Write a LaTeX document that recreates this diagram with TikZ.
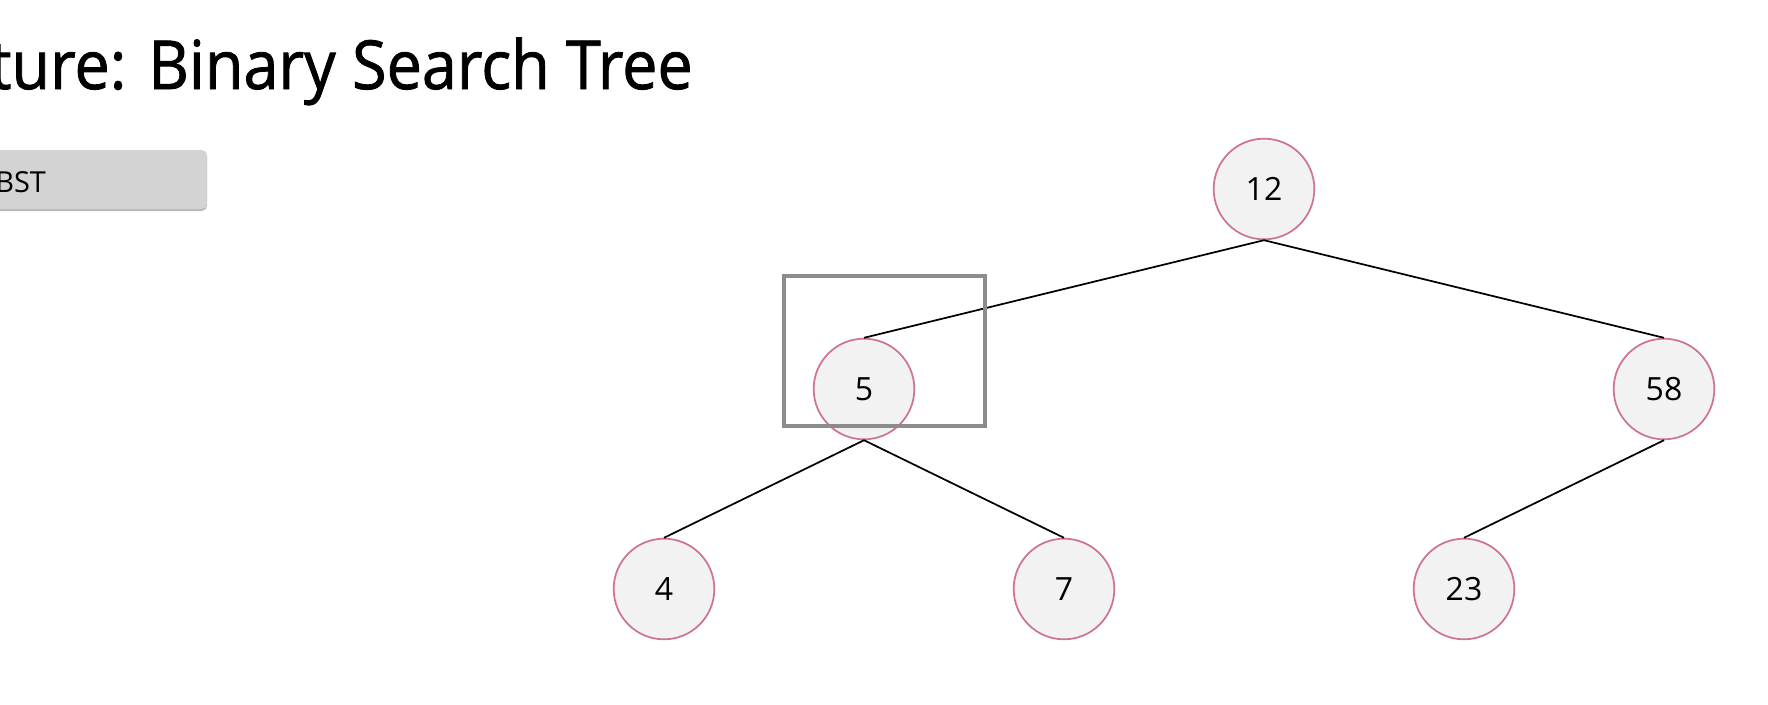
\documentclass[tikz,border=0pt]{standalone}
\usepackage{fontspec}
\setmainfont{Open Sans}
\newfontfamily\titlefont[FakeStretch=0.93,FakeBold=1.2]{Open Sans}
\definecolor{nodestroke}{HTML}{CF7393}
\definecolor{nodefill}{HTML}{F2F2F2}
\definecolor{boxgray}{HTML}{8C8C8C}
\definecolor{btnfill}{HTML}{D3D3D3}
\definecolor{btnshadow}{HTML}{B8B8B8}
\begin{document}
\begin{tikzpicture}[x=0.75pt,y=-0.75pt,
  treenode/.style={circle,draw=nodestroke,fill=nodefill,line width=1.3pt,
    minimum size=75.5pt,inner sep=0pt,font=\fontsize{24}{28}\selectfont},
  edge/.style={draw=black,line width=1.3pt},
  hilite/.style={draw=boxgray,line width=2.3pt}]
\useasboundingbox (0,0) rectangle (1768,704);
% title
\node[anchor=base east,inner sep=0pt,font=\titlefont\fontsize{50.7}{60}\selectfont] (title) at (693,89) {ture: Binary Search Tree};
% button
\fill[btnshadow,rounded corners=4pt] (-20,152) rectangle (207,211);
\fill[btnfill,rounded corners=4pt] (-20,150) rectangle (207,209);
\node[anchor=base west,inner sep=0pt,font=\fontsize{21.7}{26}\selectfont] (btn) at (-5,192) {BST};
% nodes
\node[treenode] (n12) at (1264,189) {12};
\node[treenode] (n5) at (864,389) {5};
\node[treenode] (n58) at (1664,389) {58};
\node[treenode] (n4) at (664,589) {4};
\node[treenode] (n7) at (1064,589) {7};
\node[treenode] (n23) at (1464,589) {23};
% edges
\draw[edge] (n12.south) -- (n5.north);
\draw[edge] (n12.south) -- (n58.north);
\draw[edge] (n5.south) -- (n4.north);
\draw[edge] (n5.south) -- (n7.north);
\draw[edge] (n58.south) -- (n23.north);
% highlight box
\coordinate (hA) at (784,276);
\coordinate (hB) at (985,426);
\draw[hilite] (hA) rectangle (hB);
\end{tikzpicture}
\end{document}
